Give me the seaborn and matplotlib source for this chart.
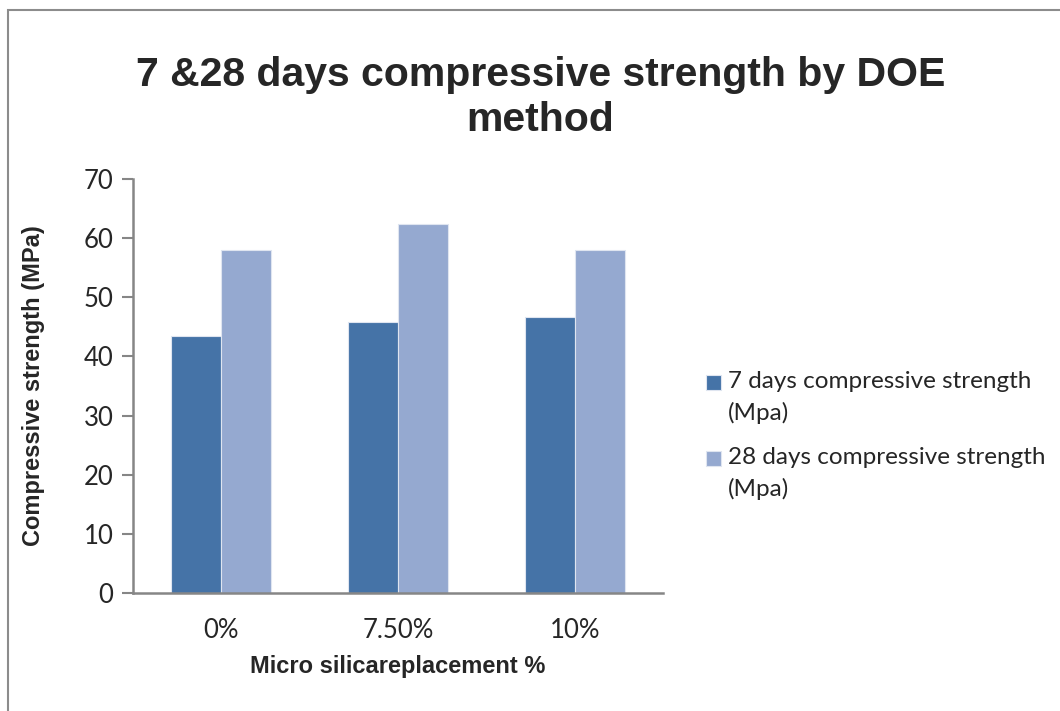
import matplotlib
matplotlib.use("Agg")
import matplotlib.pyplot as plt
import seaborn as sns
import pandas as pd
from matplotlib.patches import Rectangle
from matplotlib.legend_handler import HandlerPatch

categories = ["0%", "7.50%", "10%"]
series_names = ["7 days compressive strength\n(Mpa)", "28 days compressive strength\n(Mpa)"]
values_7d = [43.4, 45.8, 46.7]
values_28d = [58.0, 62.4, 58.1]
yticks = [0, 10, 20, 30, 40, 50, 60, 70]

df = pd.DataFrame({
    "cat": categories * 2,
    "series": [series_names[0]] * 3 + [series_names[1]] * 3,
    "val": values_7d + values_28d,
})

sns.set_style("white")
plt.rcParams['font.family'] = ['Lato', 'DejaVu Sans']
bold_family = ['Liberation Sans Narrow', 'Liberation Sans', 'DejaVu Sans']

fig = plt.figure(figsize=(10.6, 7.11), dpi=100)
ax = fig.add_axes([0.1255, 0.1664, 0.5, 0.5814])

palette = {series_names[0]: "#4573A7", series_names[1]: "#95A9D0"}
sns.barplot(data=df, x="cat", y="val", hue="series", palette=palette,
            width=0.566, dodge=True, ax=ax, saturation=1,
            edgecolor="#dfe5f0", linewidth=0.8)

ax.set_xlim(-0.5, 2.5)
ax.set_ylim(0, 70)
ax.set_yticks(yticks)
ax.set_yticklabels([str(t) for t in yticks], fontsize=18.5)
ax.tick_params(axis='y', direction='out', length=8, width=1.5, color="#868686", left=True, pad=6)
ax.tick_params(axis='x', length=0, labelsize=18.5, pad=18)
for s in ["top", "right"]:
    ax.spines[s].set_visible(False)
for s in ["left", "bottom"]:
    ax.spines[s].set_color("#868686")
    ax.spines[s].set_linewidth(1.8)

ax.set_xlabel("Micro silicareplacement %", fontsize=17, fontweight='bold',
              family=bold_family, labelpad=9)
ax.set_ylabel("Compressive strength (MPa)", fontsize=17, fontweight='bold',
              family=bold_family, labelpad=28)

fig.text(0.51, 0.805, "7 &28 days compressive strength by DOE\nmethod", ha='center', va='bottom',
         fontsize=29.5, fontweight='bold', family=bold_family, linespacing=1.22)


def top_square(legend, orig_handle, xdescent, ydescent, width, height, fontsize):
    return Rectangle((-xdescent, -ydescent + fontsize * 0.62), width, height)


leg = ax.legend(loc='center left', bbox_to_anchor=(1.04, 0.38), frameon=False,
                fontsize=17.5, handlelength=0.6, handleheight=0.6, handletextpad=0.3,
                labelspacing=0.95,
                handler_map={Rectangle: HandlerPatch(patch_func=top_square)})
for t in leg.get_texts():
    t.set_linespacing(1.55)

fig.patches.append(Rectangle((8 / 1060, -0.1), 1.2, 1.1 - 10 / 711,
                             transform=fig.transFigure, fill=False,
                             edgecolor="#8c8c8c", linewidth=1.5, clip_on=False))

fig.savefig("out.png", dpi=100)
